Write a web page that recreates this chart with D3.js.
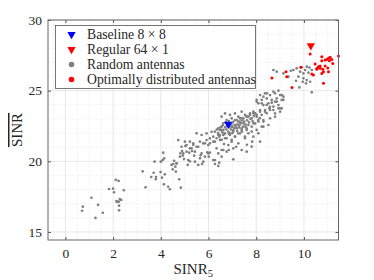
<!DOCTYPE html>
<html>
<head>
<meta charset="utf-8">
<script src="https://cdn.jsdelivr.net/npm/d3@7"></script>
<style>
  body { margin: 0; background: #fff; }
  text { font-family: "Liberation Serif", "DejaVu Serif", serif; fill: #262626; }
</style>
</head>
<body>
<svg id="chart" width="374" height="280"></svg>
<script>
const svg = d3.select("#chart");

// random antenna layouts [SINR_5, mean SINR]
const randomPts = [
  [0.73,16.79],[0.70,16.50],[1.09,17.42],[1.26,15.99],[1.37,16.91],[1.57,16.36],[1.83,18.04],[2.00,18.06],
  [2.04,17.81],[2.11,18.68],[2.23,18.61],[2.45,17.95],[2.14,17.19],[2.24,17.14],[2.34,17.26],[2.28,17.33],
  [2.25,16.86],[2.25,16.53],[2.16,17.12],
  [3.24,19.29],[3.36,18.16],[3.60,18.89],[3.70,19.19],[3.74,19.97],[3.79,18.73],[3.80,18.89],[3.99,19.24],
  [4.00,19.97],[4.08,20.09],[4.10,20.61],[4.14,20.21],[4.05,18.84],[4.13,18.37],[4.17,19.08],[4.31,18.20],
  [4.38,18.02],[4.45,19.74],[4.50,19.43],[4.52,19.81],[4.56,20.04],[4.61,19.62],[4.63,19.27],[4.66,19.86],
  [4.77,18.73],[4.84,18.13],[4.82,20.57],[4.92,20.40],[4.97,20.16],[4.89,20.73],[5.03,21.08],[5.08,20.68],
  [5.13,19.74],[5.19,20.61],[5.22,20.00],[5.31,20.73],[5.40,20.40],[5.50,21.03],[5.57,19.74],[5.67,20.42],
  [5.73,19.81],[5.78,19.97],[5.85,21.27],[5.95,20.64],[6.01,20.33],[6.06,20.61],[6.20,20.09],[6.27,19.81],
  [6.41,19.67],[6.45,19.90],[6.55,20.80],[6.65,21.22],[6.85,20.80],[7.04,20.14],[7.16,21.03],[7.61,21.17],
  [7.83,21.39],
  [4.66,19.85],[4.80,20.33],[4.94,20.56],[4.87,21.03],[5.08,21.15],[5.22,21.39],[5.36,21.27],[5.29,20.92],
  [5.43,20.68],[5.57,21.03],[5.64,21.39],[5.78,21.27],[5.92,21.50],[5.99,21.15],[6.06,21.62],[6.20,21.74],
  [6.27,21.39],[6.41,21.86],[6.48,22.21],[6.55,22.45],[6.62,22.68],[6.13,22.09],[5.92,21.98],[5.71,20.56],
  [5.85,20.33],[5.99,20.56],[5.15,20.09],[5.43,19.97],[5.64,20.21],[6.27,20.09],[6.41,20.56],[6.55,20.33],
  [4.73,21.50],[5.50,21.98],[5.71,21.86],[6.34,20.92],[6.62,20.80],
  [6.27,22.10],[6.41,22.33],[6.55,22.21],[6.62,21.86],[6.69,21.63],[6.48,21.51],[6.90,21.98],[7.04,22.21],
  [7.11,22.57],[7.18,22.92],[7.32,22.81],[7.46,23.04],[7.53,23.28],[7.67,23.16],[7.74,23.39],[7.88,23.51],
  [8.02,23.28],[8.09,22.92],[7.95,22.68],[7.81,22.45],[7.60,22.33],[7.39,22.21],[7.25,21.98],[7.11,21.74],
  [6.97,21.39],[6.83,21.15],[6.76,20.68],[7.04,20.92],[7.25,21.27],[7.53,21.63],[7.67,21.98],[7.88,21.74],
  [8.09,21.98],[8.23,22.45],[8.30,22.81],[8.16,21.39],[7.81,21.04],[7.60,20.68],[7.39,20.80],[6.55,23.16],
  [6.76,22.92],[6.97,23.04],[6.90,23.28],[6.69,23.39],[7.11,23.39],[7.25,23.16],[7.39,23.51],
  [8.02,24.22],[8.23,24.10],[8.44,23.99],[8.65,24.15],[8.86,24.22],[8.55,23.75],[8.37,23.63],[8.16,23.51],
  [7.95,23.40],[7.74,23.28],[7.60,23.16],[7.81,23.04],[8.02,23.16],[8.23,23.28],[8.44,23.40],[8.72,23.63],
  [8.93,23.75],[8.79,23.16],[8.58,23.04],[8.30,22.92],[8.09,22.81],[7.88,22.69],[7.67,22.57],[7.46,22.69],
  [7.25,22.81],[7.11,22.57],[6.97,22.45],[7.18,22.34],[7.39,22.34],[7.60,22.22],[7.81,22.10],[8.02,22.22],
  [8.30,22.45],[8.51,22.57],[7.04,22.10],[6.83,22.10],[6.62,22.22],[6.69,21.98],[6.90,21.86],[7.11,21.75],
  [7.32,21.98],[7.53,21.75],[6.48,21.86],[6.34,21.63],[6.55,21.51],[6.76,21.63],[6.97,21.51],[6.20,21.39],
  [6.06,21.27],[5.36,21.16],[5.22,20.92],[5.01,21.39],
  [6.70,22.40],[6.78,22.50],[6.88,22.40],[6.95,22.60],[7.02,22.75],[7.08,22.35],[7.15,22.45],[7.22,22.62],
  [7.30,22.55],[7.35,22.70],[7.42,22.90],[7.50,22.80],[7.55,22.60],[7.62,22.90],[7.70,22.75],[7.76,23.00],
  [6.60,22.55],[6.72,22.75],[6.85,22.85],[6.95,22.25],[7.00,22.45],[7.20,22.15],[7.28,22.40],[7.45,22.45],
  [6.40,22.00],[6.58,22.05],[6.75,22.25],[6.85,21.95],[7.00,22.00],[7.40,22.10],[7.55,22.45],[7.85,22.85],
  [6.35,22.25],[6.50,22.40],[6.45,21.75],[6.66,21.95],[7.10,22.90],[7.35,23.05],[7.90,23.20],[8.15,23.05],
  [8.02,24.34],[8.30,24.57],[8.45,24.81],[8.72,24.93],[8.93,25.00],[9.08,24.69],[9.14,24.34],[8.79,24.22],
  [8.58,23.86],[9.00,23.75],[8.16,23.63],[7.88,23.40],[7.61,23.16],[7.32,23.04],
  [8.16,24.69],[8.37,24.81],[8.58,24.69],[8.79,24.81],[9.00,24.69],[8.86,24.45],[8.65,24.34],[8.44,24.45],
  [8.23,24.34],[8.09,24.10],[8.30,23.98],[8.51,24.10],[8.72,23.87],[8.93,23.98],[9.07,23.75],[9.00,23.51],
  [8.79,23.39],[8.58,23.63],[8.37,23.51],[7.95,23.39],[9.07,24.34],[9.14,24.57],
  [9.45,26.41],[9.70,26.58],[9.91,26.65],[10.12,26.70],[10.23,26.63],[10.33,26.46],[10.05,26.46],[9.84,26.34],
  [9.98,26.22],[10.19,26.27],[9.77,25.99],[9.98,25.87],[10.12,25.75],[9.95,25.63],[10.09,25.52],[10.26,25.63],
  [9.35,25.99],[9.14,26.22],[8.86,26.34],[8.72,26.46],[9.81,25.23],[10.33,24.88],[9.67,25.70],[9.56,26.46]
];

// optimally distributed antennas [SINR_5, mean SINR]
const optimalPts = [
  [10.26,27.59],[10.75,27.40],[10.75,27.12],[10.89,27.17],[10.96,27.21],[11.03,27.29],[11.10,27.36],[11.07,27.12],
  [11.17,27.21],[11.21,26.93],[11.45,27.45],[10.47,26.88],[10.61,26.70],[10.68,26.58],[10.54,26.51],[10.79,26.51],
  [10.89,26.74],[10.82,26.34],[11.03,26.34],[10.75,26.22],[10.40,26.11],[10.33,26.18],[9.87,26.65],[9.25,26.34],
  [9.28,25.99],[8.66,25.90],[9.50,25.23],[10.82,25.52],[10.68,26.74],[10.55,26.58],[11.00,26.60]
];

const baseline = [[6.83, 22.62]];
const regular = [[10.29, 28.18]];

const xTicks = [0, 2, 4, 6, 8, 10];
const yTicks = [15, 20, 25, 30];
const legendLabels = ["Baseline 8 \u00d7 8", "Regular 64 \u00d7 1", "Random antennas", "Optimally distributed antennas"];

const padL = 48, padR = 338.5, padT = 20, padB = 240;
const x = d3.scaleLinear().domain([-0.73, 11.45]).range([padL, padR]);
const y = d3.scaleLinear().domain([14.43, 30]).range([padB, padT]);

// grid
const minorX = d3.range(-0.5, 11.5, 0.5).filter(v => !xTicks.includes(v));
const minorY = d3.range(15, 30, 1).filter(v => !yTicks.includes(v));
const grid = svg.append("g");
grid.selectAll(".mx").data(minorX).enter().append("line")
  .attr("x1", d => x(d)).attr("x2", d => x(d)).attr("y1", padT).attr("y2", padB)
  .attr("stroke", "#e4e4e4").attr("stroke-width", 0.6).attr("stroke-dasharray", "1.5,1.5");
grid.selectAll(".my").data(minorY).enter().append("line")
  .attr("y1", d => y(d)).attr("y2", d => y(d)).attr("x1", padL).attr("x2", padR)
  .attr("stroke", "#e4e4e4").attr("stroke-width", 0.6).attr("stroke-dasharray", "1.5,1.5");
grid.selectAll(".gx").data(xTicks).enter().append("line")
  .attr("x1", d => x(d)).attr("x2", d => x(d)).attr("y1", padT).attr("y2", padB)
  .attr("stroke", "#dcdcdc").attr("stroke-width", 0.7);
grid.selectAll(".gy").data(yTicks).enter().append("line")
  .attr("y1", d => y(d)).attr("y2", d => y(d)).attr("x1", padL).attr("x2", padR)
  .attr("stroke", "#dcdcdc").attr("stroke-width", 0.7);

// points
svg.append("g").selectAll("circle").data(randomPts).enter().append("circle")
  .attr("cx", d => x(d[0])).attr("cy", d => y(d[1])).attr("r", 1.35).attr("fill", "#808080");
svg.append("g").selectAll("circle").data(optimalPts).enter().append("circle")
  .attr("cx", d => x(d[0])).attr("cy", d => y(d[1])).attr("r", 1.5).attr("fill", "#ff0000");

const tri = d3.symbol().type(d3.symbolTriangle).size(30);
svg.append("g").selectAll("path").data(baseline).enter().append("path")
  .attr("d", tri).attr("transform", d => `translate(${x(d[0])},${y(d[1])}) rotate(180)`).attr("fill", "#0000ff");
svg.append("g").selectAll("path").data(regular).enter().append("path")
  .attr("d", tri).attr("transform", d => `translate(${x(d[0])},${y(d[1])}) rotate(180)`).attr("fill", "#ff0000");

// axes
const xAxis = svg.append("g").attr("transform", `translate(0,${padB})`)
  .call(d3.axisBottom(x).tickValues(xTicks).tickSizeInner(-3).tickSizeOuter(0).tickPadding(8));
const yAxis = svg.append("g").attr("transform", `translate(${padL},0)`)
  .call(d3.axisLeft(y).tickValues(yTicks).tickSizeInner(-3).tickSizeOuter(0).tickPadding(6));
const xTop = svg.append("g").attr("transform", `translate(0,${padT})`)
  .call(d3.axisTop(x).tickValues(xTicks).tickSizeInner(-3).tickSizeOuter(0).tickFormat(""));
const yRight = svg.append("g").attr("transform", `translate(${padR},0)`)
  .call(d3.axisRight(y).tickValues(yTicks).tickSizeInner(-3).tickSizeOuter(0).tickFormat(""));
[xAxis, yAxis, xTop, yRight].forEach(g => {
  g.select(".domain").remove();
  g.selectAll("line").attr("stroke", "#555");
  g.selectAll("text").attr("font-family", "Liberation Serif").attr("font-size", 13.5).attr("fill", "#262626");
});
svg.append("rect").attr("x", padL).attr("y", padT).attr("width", padR - padL).attr("height", padB - padT)
  .attr("fill", "none").attr("stroke", "#666").attr("stroke-width", 1);

// axis labels
const xl = svg.append("text").attr("x", (padL + padR) / 2).attr("y", 274)
  .attr("text-anchor", "middle").attr("font-size", 15);
xl.append("tspan").text("SINR");
xl.append("tspan").attr("font-size", 10.5).attr("dy", 3).text("5");

const yl = svg.append("text")
  .attr("transform", `translate(22,${(padT + padB) / 2}) rotate(-90)`)
  .attr("text-anchor", "middle").attr("font-size", 15)
  .attr("text-decoration", "overline").text("SINR");

// legend
const leg = svg.append("g").attr("transform", "translate(55.5,25.5)");
leg.append("rect").attr("width", 200).attr("height", 63).attr("fill", "#fff")
  .attr("stroke", "#555").attr("stroke-width", 0.8);
const items = leg.selectAll(".item").data(legendLabels).enter().append("g")
  .attr("transform", (d, i) => `translate(0,${9 + i * 15})`);
items.filter((d, i) => i < 2).append("path")
  .attr("d", tri).attr("transform", "translate(16,0) rotate(180)")
  .attr("fill", (d, i) => i === 0 ? "#0000ff" : "#ff0000");
items.filter((d, i) => i >= 2).append("circle")
  .attr("cx", 16).attr("r", 2.8)
  .attr("fill", (d, i) => i === 0 ? "#808080" : "#ff0000");
items.append("text").attr("x", 31.5).attr("dy", "0.35em").attr("font-size", 13.7).text(d => d);
</script>
</body>
</html>
